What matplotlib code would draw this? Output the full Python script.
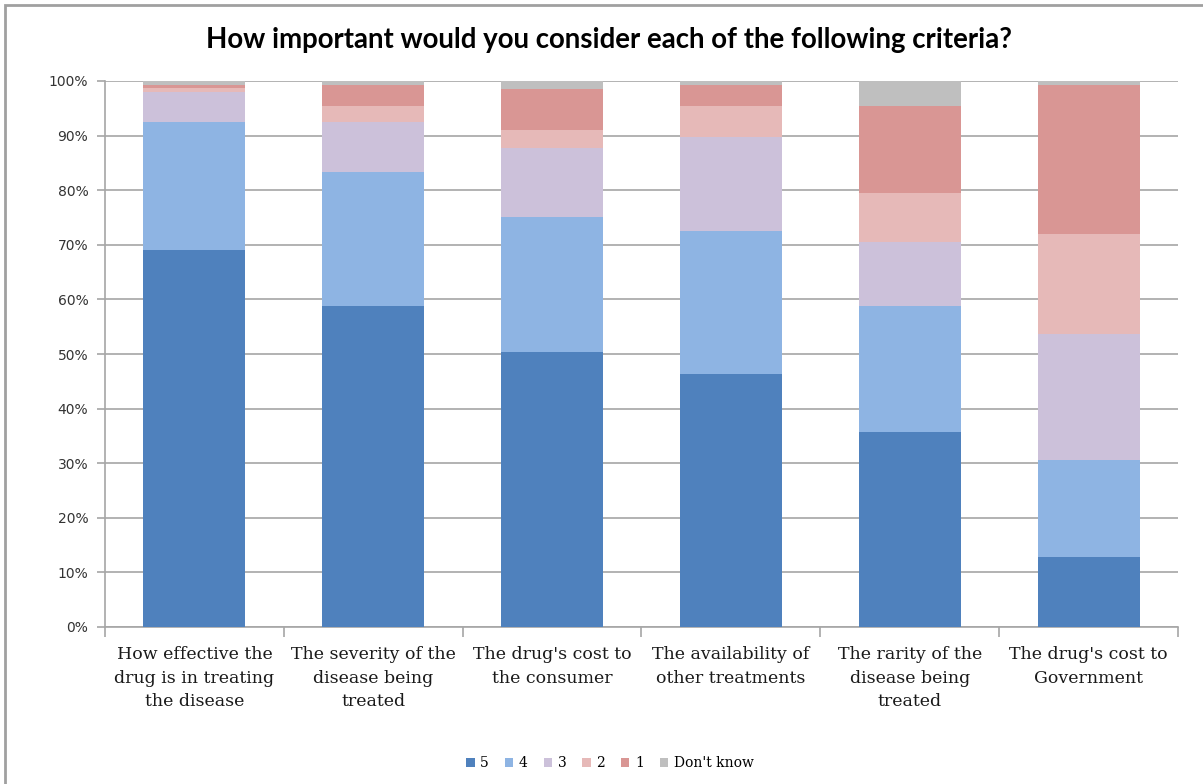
import numpy as np
import matplotlib.pyplot as plt
from matplotlib.patches import Rectangle

categories = [
    "How effective the\ndrug is in treating\nthe disease",
    "The severity of the\ndisease being\ntreated",
    "The drug's cost to\nthe consumer",
    "The availability of\nother treatments",
    "The rarity of the\ndisease being\ntreated",
    "The drug's cost to\nGovernment",
]
series_names = ["5", "4", "3", "2", "1", "Don't know"]

# percentages per answer, one value per criterion
s5 = [69.0, 58.8, 50.4, 46.3, 35.7, 12.8]
s4 = [23.5, 24.5, 24.7, 26.3, 23.1, 17.8]
s3 = [5.4, 9.1, 12.7, 17.1, 11.8, 23.1]
s2 = [0.9, 3.1, 3.2, 5.8, 8.8, 18.3]
s1 = [0.5, 3.8, 7.5, 3.8, 16.1, 27.3]
dont_know = [0.7, 0.7, 1.5, 0.7, 4.5, 0.7]

colors = ['#4F81BD', '#8EB4E3', '#CCC1DA', '#E6B9B8', '#D99694', '#BFBFBF']

fig = plt.figure(figsize=(12.03, 7.84), dpi=100)
ax = fig.add_axes([105 / 1203, 1 - 627 / 784, (1178 - 105) / 1203, (627 - 81) / 784])

# chart-area border (only top and left visible in the reference)
fig.patches.append(Rectangle((5 / 1203, -0.1), 1.2, 1.1 - 5 / 784, transform=fig.transFigure,
                             fill=False, edgecolor='#A0A0A0', linewidth=2, zorder=0))

index = np.arange(len(categories))
bottom = np.zeros(len(categories))
for name, vals, col in zip(series_names, [s5, s4, s3, s2, s1, dont_know], colors):
    ax.bar(index, vals, 0.57, bottom=bottom, color=col, label=name, zorder=3)
    bottom += np.array(vals)

ax.set_xlim(-0.5, len(categories) - 0.5)
ax.set_ylim(0, 100)
ax.set_yticks(np.arange(0, 101, 10))
ax.set_yticklabels([f'{v}%' for v in range(0, 101, 10)], fontsize=10, color='#333333',
                   family='DejaVu Sans')
ax.yaxis.grid(True, color='#A6A6A6', linewidth=1.2, zorder=0)
ax.tick_params(axis='y', length=6, color='#A6A6A6', width=1.2, pad=6)

ax.set_xticks(index)
ax.set_xticklabels(categories, fontsize=12.5, family='DejaVu Serif', linespacing=1.5,
                   color='#1a1a1a')
ax.set_xticks(np.arange(-0.5, len(categories)), minor=True)
ax.tick_params(axis='x', which='major', length=0, pad=14)
ax.tick_params(axis='x', which='minor', length=7, color='#A6A6A6', width=1.2)

for side in ['top', 'right']:
    ax.spines[side].set_visible(False)
for side in ['left', 'bottom']:
    ax.spines[side].set_color('#A6A6A6')
    ax.spines[side].set_linewidth(1.2)

fig.text(609 / 1203, 1 - 40 / 784, 'How important would you consider each of the following criteria?',
         ha='center', va='center', fontsize=19.9, fontweight='bold', family='Lato')

fig.legend(loc='center', bbox_to_anchor=(610 / 1203, 1 - 763 / 784), ncol=6, frameon=False,
           prop={'family': 'DejaVu Serif', 'size': 10}, handlelength=0.6, handleheight=0.6,
           handletextpad=0.4, columnspacing=1.15)

fig.savefig('out.png', dpi=100)
